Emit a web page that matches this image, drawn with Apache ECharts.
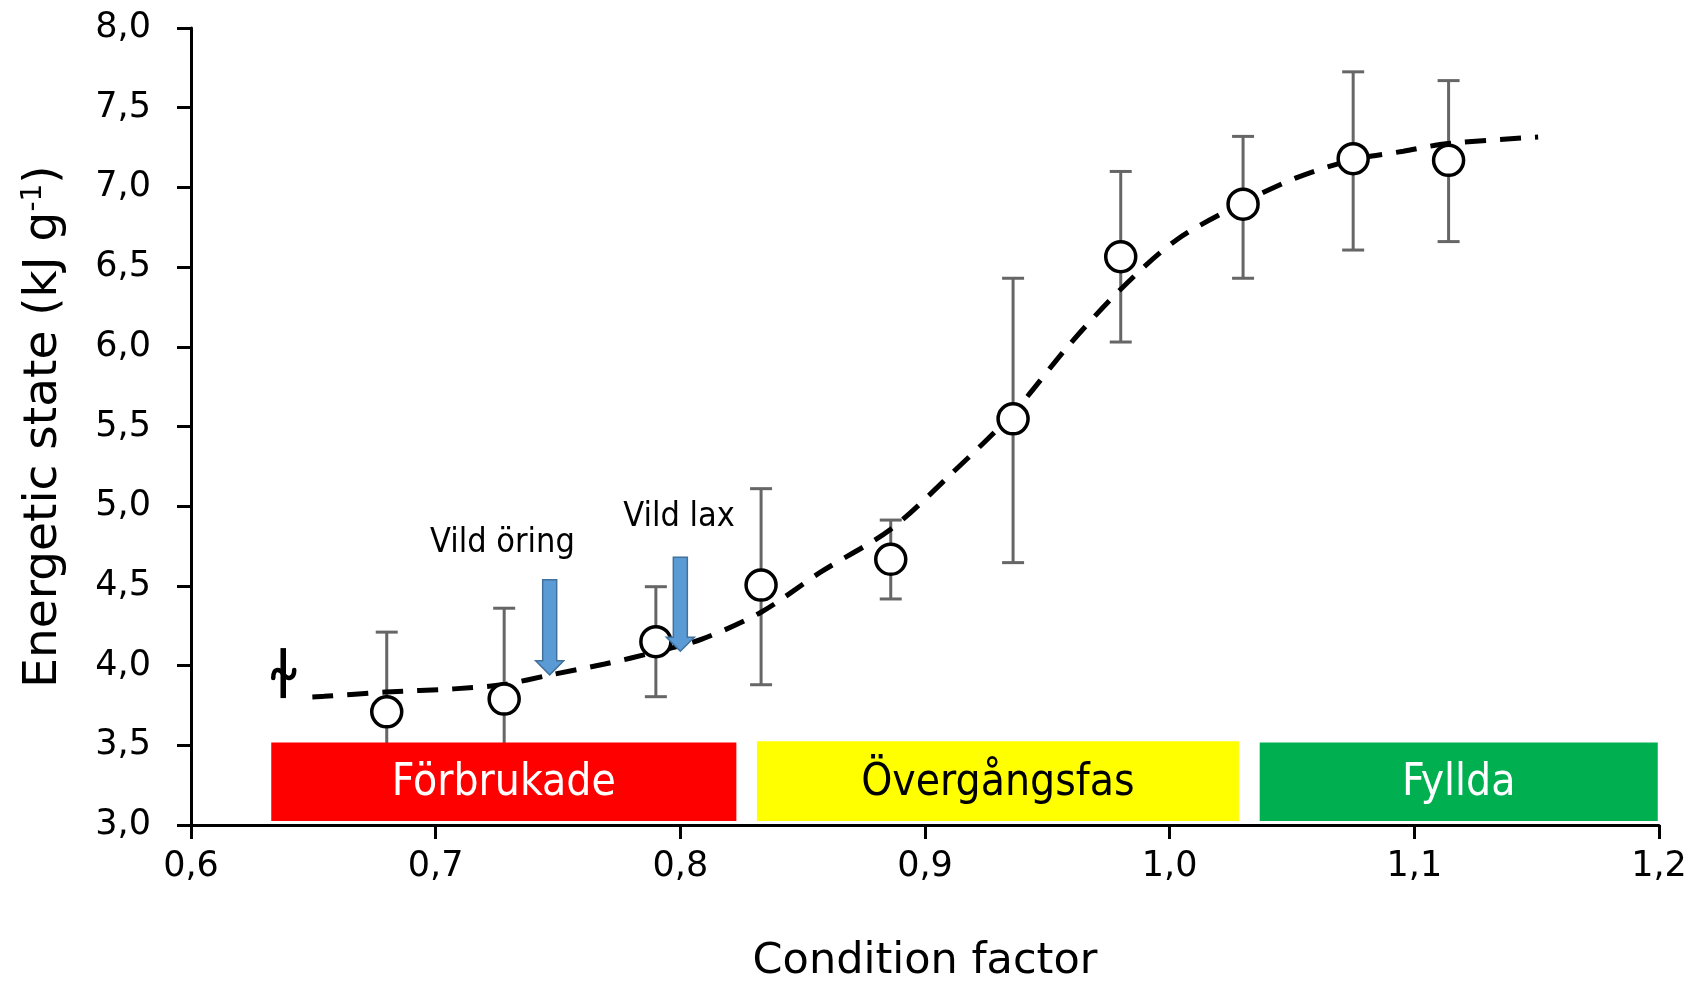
<!DOCTYPE html>
<html><head><meta charset="utf-8">
<script src="https://cdn.jsdelivr.net/npm/echarts@6/dist/echarts.min.js"></script>
<style>html,body{margin:0;padding:0;background:#fff}#c{width:1693px;height:981px}</style>
</head><body><div id="c"></div>
<script>
// ---- data ----
const conditionFactor = [0.680, 0.728, 0.790, 0.833, 0.886, 0.936, 0.980, 1.030, 1.075, 1.114];
const energeticState  = [3.71, 3.79, 4.15, 4.505, 4.667, 5.548, 6.565, 6.895, 7.18, 7.17];
const errorLow        = [3.21, 3.22, 3.805, 3.88, 4.418, 4.646, 6.03, 6.43, 6.607, 6.66];
const errorHigh       = [4.21, 4.36, 4.495, 5.11, 4.913, 6.43, 7.10, 7.32, 7.725, 7.67];

const curveX = [0.6496, 0.6544, 0.6796, 0.7074, 0.7276, 0.7470, 0.7691, 0.7898, 0.8088, 0.8330, 0.8573, 0.8860, 0.9102, 0.9362, 0.9587, 0.9799, 1.0029, 1.0297, 1.0514, 1.0748, 1.0955, 1.1136, 1.1506];
const curveY = [3.803, 3.807, 3.834, 3.854, 3.881, 3.942, 4.010, 4.085, 4.166, 4.335, 4.586, 4.856, 5.195, 5.588, 6.008, 6.360, 6.672, 6.902, 7.058, 7.173, 7.227, 7.275, 7.316];

const zoneNames  = ['Förbrukade', 'Övergångsfas', 'Fyllda'];
const zoneStart  = [0.6328, 0.8313, 1.0368];
const zoneEnd    = [0.8229, 1.0283, 1.1995];
const zoneBottom = [3.025, 3.025, 3.025];
const zoneTop    = [3.518, 3.525, 3.518];

const arrowNames = ['Vild öring', 'Vild lax'];
const arrowX     = [0.7466, 0.8000];
const arrowTop   = [4.538, 4.680];
const arrowTip   = [3.942, 4.090];
const arrowLabelX = [0.7273, 0.7995];
const arrowLabelY = [4.769, 4.932];

const breakMark = [[0.6377, 3.953]];

const xTicks = [0.6, 0.7, 0.8, 0.9, 1.0, 1.1, 1.2];
const yTicks = [3.0, 3.5, 4.0, 4.5, 5.0, 5.5, 6.0, 6.5, 7.0, 7.5, 8.0];

// ---- styles ----
const zoneFill = ['#ff0000', '#ffff00', '#00b050'];
const zoneText = ['#ffffff', '#000000', '#ffffff'];
const FONT = "'DejaVu Sans', sans-serif";
const NARROW = "'Liberation Sans Narrow', 'DejaVu Sans Condensed', sans-serif";

const chart = echarts.init(document.getElementById('c'), null, {renderer: 'canvas'});
const fmt = v => v.toFixed(1).replace('.', ',');

const option = {
  animation: false,
  backgroundColor: '#ffffff',
  grid: {left: 191, right: 34, top: 28, bottom: 156, containLabel: false, outerBoundsMode: 'none'},
  xAxis: {
    type: 'value', min: xTicks[0], max: xTicks[xTicks.length - 1], interval: 0.1,
    axisLine: {show: true, onZero: false, lineStyle: {color: '#000', width: 3}},
    axisTick: {show: true, inside: false, length: 14, lineStyle: {color: '#000', width: 3}},
    splitLine: {show: false},
    axisLabel: {formatter: fmt, color: '#000', fontFamily: FONT, fontSize: 35, margin: 24},
    name: 'Condition factor', nameLocation: 'middle', nameGap: 115,
    nameTextStyle: {color: '#000', fontFamily: FONT, fontSize: 43}
  },
  yAxis: {
    type: 'value', min: yTicks[0], max: yTicks[yTicks.length - 1], interval: 0.5,
    axisLine: {show: true, onZero: false, lineStyle: {color: '#000', width: 3}},
    axisTick: {show: true, inside: false, length: 14, lineStyle: {color: '#000', width: 3}},
    splitLine: {show: false},
    axisLabel: {formatter: fmt, color: '#000', fontFamily: FONT, fontSize: 35, margin: 40},
    name: '{t|Energetic state (kJ g}{s|-1}{t|)}', nameLocation: 'middle', nameGap: 124,
    nameTextStyle: {
      rich: {
        t: {color: '#000', fontFamily: FONT, fontSize: 47},
        s: {color: '#000', fontFamily: FONT, fontSize: 28, verticalAlign: 'top', padding: [0, 0, 14, 0]}
      }
    }
  },
  series: [
    { // error bars
      type: 'custom', z: 1,
      data: conditionFactor.map((x, i) => [x, errorLow[i], errorHigh[i]]),
      renderItem: (params, api) => {
        const lo = api.coord([api.value(0), api.value(1)]);
        const hi = api.coord([api.value(0), api.value(2)]);
        const c = 11;
        const st = {stroke: '#666666', lineWidth: 3};
        return {type: 'group', children: [
          {type: 'line', shape: {x1: lo[0], y1: lo[1], x2: hi[0], y2: hi[1]}, style: st},
          {type: 'line', shape: {x1: lo[0] - c, y1: lo[1], x2: lo[0] + c, y2: lo[1]}, style: st},
          {type: 'line', shape: {x1: hi[0] - c, y1: hi[1], x2: hi[0] + c, y2: hi[1]}, style: st}
        ]};
      }
    },
    { // fitted curve
      type: 'line', z: 2, smooth: 0.3, showSymbol: false, symbol: 'none',
      data: curveX.map((x, i) => [x, curveY[i]]),
      lineStyle: {color: '#000', width: 5, type: [21, 14]}
    },
    { // zones
      type: 'custom', z: 3,
      data: zoneNames.map((n, i) => [zoneStart[i], zoneEnd[i], zoneBottom[i], zoneTop[i], i]),
      renderItem: (params, api) => {
        const i = api.value(4);
        const p0 = api.coord([api.value(0), api.value(3)]);
        const p1 = api.coord([api.value(1), api.value(2)]);
        return {type: 'group', children: [
          {type: 'rect', shape: {x: p0[0], y: p0[1], width: p1[0] - p0[0], height: p1[1] - p0[1]},
           style: {fill: zoneFill[i]}},
          {type: 'text', x: (p0[0] + p1[0]) / 2, y: (p0[1] + p1[1]) / 2 + 2,
           style: {text: zoneNames[i], fill: zoneText[i], font: '44px ' + NARROW, align: 'center', verticalAlign: 'middle'}}
        ]};
      }
    },
    { // data points
      type: 'scatter', z: 4,
      data: conditionFactor.map((x, i) => [x, energeticState[i]]),
      symbol: 'circle', symbolSize: 30,
      itemStyle: {color: '#ffffff', borderColor: '#000000', borderWidth: 3.5, opacity: 1}
    },
    { // arrows
      type: 'custom', z: 5,
      data: arrowNames.map((n, i) => [arrowX[i], arrowTop[i], arrowTip[i]]),
      renderItem: (params, api) => {
        const t = api.coord([api.value(0), api.value(1)]);
        const b = api.coord([api.value(0), api.value(2)]);
        const x = t[0], sw = 7, hw = 14, hl = 14;
        return {type: 'polygon', shape: {points: [
          [x - sw, t[1]], [x + sw, t[1]], [x + sw, b[1] - hl], [x + hw, b[1] - hl],
          [x, b[1]], [x - hw, b[1] - hl], [x - sw, b[1] - hl]
        ]}, style: {fill: '#5b9bd5', stroke: '#41719c', lineWidth: 1.5}};
      }
    },
    { // arrow labels
      type: 'custom', z: 5,
      data: arrowNames.map((n, i) => [arrowLabelX[i], arrowLabelY[i], i]),
      renderItem: (params, api) => {
        const p = api.coord([api.value(0), api.value(1)]);
        return {type: 'text', x: p[0], y: p[1],
          style: {text: arrowNames[api.value(2)], fill: '#000', font: '34px ' + NARROW, align: 'center', verticalAlign: 'middle'}};
      }
    },
    { // axis break mark
      type: 'custom', z: 5,
      data: breakMark,
      renderItem: (params, api) => {
        const p = api.coord([api.value(0), api.value(1)]);
        return {type: 'group', x: p[0], y: p[1], children: [
          {type: 'line', shape: {x1: 0, y1: -25, x2: 0, y2: 25}, style: {stroke: '#000', lineWidth: 5.5}},
          {type: 'path', shape: {pathData: 'M -10 5 C -10 -5 -4 -5 0 1 C 4 7 11 6 11 -3'},
           style: {stroke: '#000', lineWidth: 4.5, fill: null, lineCap: 'round'}}
        ]};
      }
    }
  ]
};
chart.setOption(option);
</script>
</body></html>
